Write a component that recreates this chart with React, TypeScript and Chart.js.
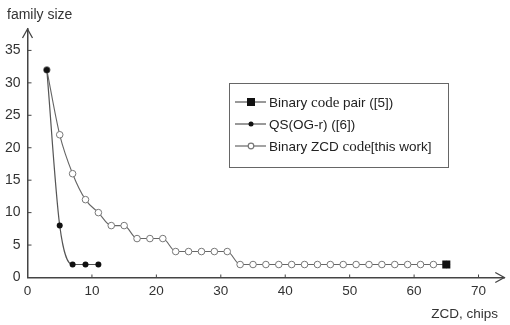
import React, { useEffect, useRef } from "react";
import { Chart, registerables } from "chart.js";

Chart.register(...registerables);

const pairX = [65];
const pairY = [2];
const qsX = [3, 5, 7, 9, 11];
const qsY = [32, 8, 2, 2, 2];
const zcdX = [3, 5, 7, 9, 11, 13, 15, 17, 19, 21, 23, 25, 27, 29, 31, 33, 35, 37, 39, 41, 43, 45, 47, 49, 51, 53, 55, 57, 59, 61, 63, 65];
const zcdY = [32, 22, 16, 12, 10, 8, 8, 6, 6, 6, 4, 4, 4, 4, 4, 2, 2, 2, 2, 2, 2, 2, 2, 2, 2, 2, 2, 2, 2, 2, 2, 2];
const labels = ["Binary code pair ([5])", "QS(OG-r) ([6])", "Binary ZCD code[this work]"];
const xTicks = [0, 10, 20, 30, 40, 50, 60, 70];
const yTicks = [0, 5, 10, 15, 20, 25, 30, 35];
const yTitle = "family size";
const xTitle = "ZCD, chips";

const SANS = "'Liberation Sans', Arial, sans-serif";
const SERIF = "'Liberation Serif', 'Times New Roman', serif";
const AXIS = "#444";

const pts = (xs: number[], ys: number[]) => xs.map((x, i) => ({ x, y: ys[i] }));

const decor = {
  id: "decor",
  afterDraw(chart: any) {
    const ctx = chart.ctx as CanvasRenderingContext2D;
    const xs = chart.scales.x;
    const ys = chart.scales.y;
    const x0 = xs.getPixelForValue(0);
    const y0 = ys.getPixelForValue(0);
    const top = chart.chartArea.top;
    const right = chart.chartArea.right;
    ctx.save();
    ctx.strokeStyle = AXIS;
    ctx.lineWidth = 1.3;
    // arrows
    ctx.beginPath();
    ctx.moveTo(x0 - 5, top + 9);
    ctx.lineTo(x0, top);
    ctx.lineTo(x0 + 5, top + 9);
    ctx.moveTo(right - 9, y0 - 5);
    ctx.lineTo(right, y0);
    ctx.lineTo(right - 9, y0 + 5);
    ctx.stroke();
    // inward ticks
    ctx.lineWidth = 1;
    ctx.beginPath();
    yTicks.forEach((v) => {
      const p = ys.getPixelForValue(v);
      ctx.moveTo(x0, p);
      ctx.lineTo(x0 + 4, p);
    });
    xTicks.forEach((v) => {
      const p = xs.getPixelForValue(v);
      ctx.moveTo(p, y0);
      ctx.lineTo(p, y0 - 3);
    });
    ctx.stroke();
    // titles
    ctx.fillStyle = "#333";
    ctx.font = `14px ${SANS}`;
    ctx.textBaseline = "middle";
    ctx.textAlign = "left";
    ctx.fillText(yTitle, 7, 15);
    ctx.font = `13.5px ${SANS}`;
    ctx.textAlign = "right";
    ctx.fillText(xTitle, 498, 314);

    // legend
    const bx = 229, by = 83, bw = 219, bh = 84;
    ctx.strokeStyle = "#666";
    ctx.lineWidth = 1;
    ctx.strokeRect(bx + 0.5, by + 0.5, bw, bh);
    const rows = [102, 124, 146];
    chart.data.datasets.forEach((ds: any, i: number) => {
      const y = rows[i];
      ctx.strokeStyle = ds.borderColor;
      ctx.lineWidth = 1.2;
      ctx.beginPath();
      ctx.moveTo(235, y);
      ctx.lineTo(266, y);
      ctx.stroke();
      ctx.beginPath();
      if (ds.pointStyle === "rect") {
        ctx.fillStyle = "#111";
        ctx.fillRect(247, y - 4, 8, 8);
      } else if (i === 1) {
        ctx.fillStyle = "#111";
        ctx.arc(251, y, 2.5, 0, Math.PI * 2);
        ctx.fill();
      } else {
        ctx.fillStyle = "#fff";
        ctx.strokeStyle = "#777";
        ctx.arc(251, y, 2.8, 0, Math.PI * 2);
        ctx.fill();
        ctx.stroke();
      }
      const label: string = ds.label;
      const parts = label.split(/(code)/);
      let tx = 269;
      ctx.fillStyle = "#222";
      ctx.textAlign = "left";
      parts.forEach((part) => {
        ctx.font = part === "code" ? `15px ${SERIF}` : `13.5px ${SANS}`;
        ctx.fillText(part, tx, y + 1);
        tx += ctx.measureText(part).width;
      });
    });
    ctx.restore();
  },
};

export default function App() {
  const ref = useRef<HTMLCanvasElement>(null);
  useEffect(() => {
    const chart = new Chart(ref.current!, {
      type: "line",
      data: {
        datasets: [
          {
            label: labels[0],
            data: pts(pairX, pairY),
            borderColor: "#555",
            backgroundColor: "#111",
            pointStyle: "rect",
            pointRadius: 5.7,
            pointBorderWidth: 0,
            showLine: false,
          },
          {
            label: labels[1],
            data: pts(qsX, qsY),
            borderColor: "#555",
            borderWidth: 1.2,
            backgroundColor: "#111",
            pointBackgroundColor: "#111",
            pointBorderColor: "#111",
            pointRadius: 3,
            pointBorderWidth: 0,
            cubicInterpolationMode: "monotone",
          },
          {
            label: labels[2],
            data: pts(zcdX, zcdY),
            borderColor: "#666",
            borderWidth: 1.1,
            pointBackgroundColor: "#fff",
            pointBorderColor: "#777",
            pointRadius: 3.3,
            pointBorderWidth: 1,
            cubicInterpolationMode: "monotone",
          },
        ] as any,
      },
      options: {
        animation: false,
        responsive: false,
        maintainAspectRatio: false,
        layout: { padding: { top: 29, right: 1, left: 0, bottom: 0 } },
        plugins: { legend: { display: false }, tooltip: { enabled: false } },
        scales: {
          x: {
            type: "linear",
            min: 0,
            max: 74,
            afterFit: (s: any) => { s.height = 47.5; },
            afterBuildTicks: (s: any) => { s.ticks = xTicks.map((v) => ({ value: v })); },
            grid: { display: false, drawTicks: false },
            border: { display: true, color: AXIS, width: 1.5 },
            ticks: { padding: 6, color: "#333", font: { family: SANS, size: 13.5 }, maxRotation: 0 },
          },
          y: {
            type: "linear",
            min: 0,
            max: 38.3,
            afterFit: (s: any) => { s.width = 27.5; },
            afterBuildTicks: (s: any) => { s.ticks = yTicks.map((v) => ({ value: v })); },
            grid: { display: false, drawTicks: false },
            border: { display: true, color: AXIS, width: 1.5 },
            ticks: { padding: 7, color: "#333", font: { family: SANS, size: 14 } },
          },
        },
      },
      plugins: [decor],
    });
    return () => chart.destroy();
  }, []);
  return (
    <div style={{ position: "fixed", left: 0, top: 0, width: 510, height: 325, background: "#fff" }}>
      <canvas ref={ref} width={510} height={325} style={{ width: 510, height: 325, display: "block" }} />
    </div>
  );
}
